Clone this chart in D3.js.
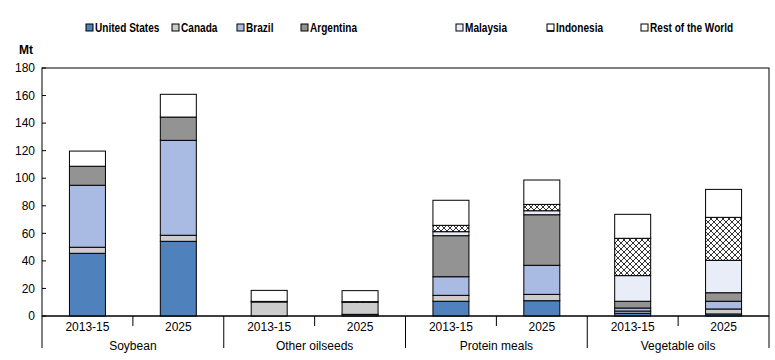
<!DOCTYPE html>
<html>
<head>
<meta charset="utf-8">
<script src="https://cdn.jsdelivr.net/npm/d3@7"></script>
<style>
  body { margin: 0; background: #fff; }
  svg text { font-family: "Liberation Sans", Arial, sans-serif; }
</style>
</head>
<body>
<div id="chart"></div>
<script>
const groups = ["Soybean", "Other oilseeds", "Protein meals", "Vegetable oils"];
const periods = ["2013-15", "2025"];
const countries = ["United States", "Canada", "Brazil", "Argentina", "Malaysia", "Indonesia", "Rest of the World"];
const yTicks = [0, 20, 40, 60, 80, 100, 120, 140, 160, 180];

// values in Mt, order: group x period
const unitedStates = [45.5, 54.2, 0, 1.2, 10.7, 11.1, 2.0, 1.5];
const canada       = [4.4, 4.4, 10.2, 8.8, 4.3, 4.6, 1.6, 3.6];
const brazil       = [45.0, 68.9, 0, 0, 13.5, 21.1, 2.2, 5.6];
const argentina    = [13.8, 16.9, 0, 0, 29.8, 36.7, 4.9, 6.2];
const malaysia     = [0, 0, 0, 0, 2.9, 2.9, 18.6, 23.5];
const indonesia    = [0, 0, 0.4, 0.4, 4.6, 4.6, 27.1, 31.2];
const restOfWorld  = [11.0, 16.5, 8.0, 8.0, 18.2, 17.7, 17.4, 20.3];

const series = [unitedStates, canada, brazil, argentina, malaysia, indonesia, restOfWorld];
const colors = ["#4F81BD", "#CCCCCC", "#A9BAE3", "#939393", "#E9EDF7", "url(#xhatch)", "#FFFFFF"];

const rows = [];
groups.forEach((g, gi) => periods.forEach((p, pi) => {
  const i = gi * periods.length + pi;
  const row = { key: g + "|" + p, group: g, period: p };
  countries.forEach((c, ci) => row[c] = series[ci][i]);
  rows.push(row);
}));

const width = 775, height = 360;
const margin = { top: 68, right: 6, bottom: 44, left: 42 };

const svg = d3.select("#chart").append("svg")
  .attr("width", width).attr("height", height);

const defs = svg.append("defs");
const pat = defs.append("pattern")
  .attr("id", "xhatch")
  .attr("patternUnits", "userSpaceOnUse")
  .attr("width", 6).attr("height", 6);
pat.append("rect").attr("width", 6).attr("height", 6).attr("fill", "#fff");
pat.append("path").attr("d", "M0,0 L6,6 M6,0 L0,6")
  .attr("stroke", "#000").attr("stroke-width", 0.8);

const x = d3.scaleBand()
  .domain(rows.map(d => d.key))
  .range([margin.left, width - margin.right]);

const y = d3.scaleLinear()
  .domain([0, 180])
  .range([height - margin.bottom, margin.top]);

const stack = d3.stack().keys(countries)(rows);
const barW = 36;

// plot frame
svg.append("rect")
  .attr("x", margin.left).attr("y", margin.top)
  .attr("width", width - margin.right - margin.left)
  .attr("height", y(0) - margin.top)
  .attr("fill", "none").attr("stroke", "#000");

// bars
svg.append("g").selectAll("g")
  .data(stack)
  .join("g")
  .attr("fill", (d, i) => colors[i])
  .selectAll("rect")
  .data(d => d.filter(s => s[1] - s[0] > 0))
  .join("rect")
  .attr("x", d => x(d.data.key) + x.bandwidth() / 2 - barW / 2)
  .attr("width", barW)
  .attr("y", d => y(d[1]))
  .attr("height", d => y(d[0]) - y(d[1]))
  .attr("stroke", "#000")
  .attr("stroke-width", 1);

// y axis
const yAxis = svg.append("g").attr("transform", `translate(${margin.left},0)`);
yAxis.selectAll("line")
  .data(yTicks)
  .join("line")
  .attr("x1", 0).attr("x2", 4)
  .attr("y1", d => y(d)).attr("y2", d => y(d))
  .attr("stroke", "#000");
yAxis.selectAll("text")
  .data(yTicks)
  .join("text")
  .attr("x", -7).attr("y", d => y(d))
  .attr("dy", "0.35em")
  .attr("text-anchor", "end")
  .attr("font-size", 12)
  .text(d => d);

svg.append("text")
  .attr("x", 26).attr("y", 54)
  .attr("text-anchor", "middle")
  .attr("font-size", 12).attr("font-weight", "bold")
  .text("Mt");

// x axis
const x0 = y(0);
svg.append("line")
  .attr("x1", margin.left).attr("x2", width - margin.right)
  .attr("y1", x0).attr("y2", x0)
  .attr("stroke", "#000");

const bw = x.bandwidth();
// short ticks between periods
svg.append("g").selectAll("line")
  .data(groups)
  .join("line")
  .attr("x1", g => x(g + "|" + periods[1])).attr("x2", g => x(g + "|" + periods[1]))
  .attr("y1", x0).attr("y2", x0 + 10)
  .attr("stroke", "#000");
// long separators between groups
const seps = groups.map(g => x(g + "|" + periods[0])).concat([x(groups[groups.length - 1] + "|" + periods[1]) + bw]);
svg.append("g").selectAll("line")
  .data(seps)
  .join("line")
  .attr("x1", d => d).attr("x2", d => d)
  .attr("y1", x0).attr("y2", height - 12)
  .attr("stroke", "#000");

svg.append("g").selectAll("text")
  .data(rows)
  .join("text")
  .attr("x", d => x(d.key) + bw / 2)
  .attr("y", x0 + 15)
  .attr("text-anchor", "middle")
  .attr("font-size", 12)
  .text(d => d.period);

svg.append("g").selectAll("text")
  .data(groups)
  .join("text")
  .attr("x", g => x(g + "|" + periods[0]) + bw)
  .attr("y", x0 + 34)
  .attr("text-anchor", "middle")
  .attr("font-size", 12)
  .text(g => g);

// legend
const legendX = [86, 172, 237, 301, 456, 547, 641];
const legend = svg.append("g").selectAll("g")
  .data(countries)
  .join("g")
  .attr("transform", (d, i) => `translate(${legendX[i]},28)`);
legend.append("rect")
  .attr("x", 0).attr("y", -4)
  .attr("width", 7).attr("height", 7)
  .attr("fill", (d, i) => i === 5 ? "#fff" : colors[i])
  .attr("stroke", "#000");
legend.filter((d, i) => i === 5).append("line")
  .attr("x1", 0).attr("x2", 7).attr("y1", 3).attr("y2", 3)
  .attr("stroke", "#000").attr("stroke-width", 1.5);
legend.append("text")
  .attr("transform", "translate(9,0) scale(0.84,1)")
  .attr("dy", "0.35em")
  .attr("font-size", 12)
  .attr("font-weight", "bold")
  .text(d => d);
</script>
</body>
</html>
